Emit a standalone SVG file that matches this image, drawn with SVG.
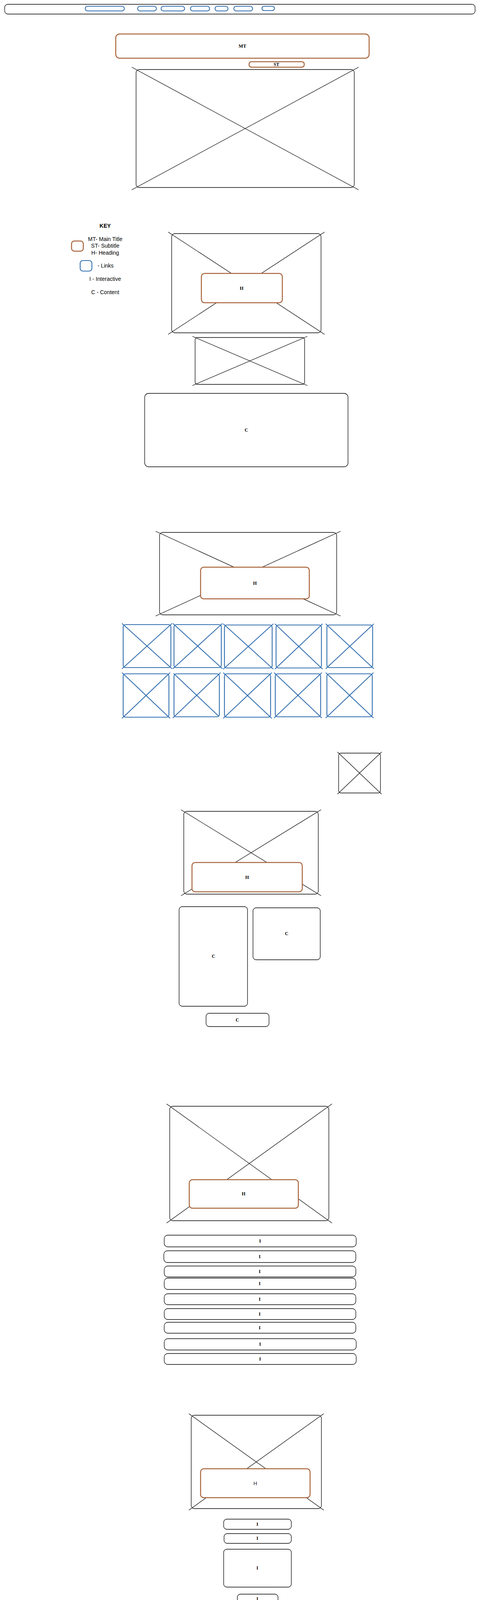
<svg xmlns="http://www.w3.org/2000/svg" width="1225" height="4113" viewBox="0 0 1225 4113">
<style>
.bg{fill:#ffffff}
.frame{fill:#ffffff;stroke:#000000;stroke-width:1.3}
.x{stroke:#000000;stroke-width:1.2;fill:none}
.brown{fill:#ffffff;stroke:#A9643C;stroke-width:2.5}
.blue{fill:#ffffff;stroke:#3470B0;stroke-width:2.2}
.bx{stroke:#3470B0;stroke-width:2.2;fill:none}
.lbl{font-family:"Liberation Serif","Times New Roman",serif;font-weight:bold;font-size:12px;fill:#000000;text-anchor:middle}
.key{font-family:"Liberation Sans",Arial,sans-serif;font-size:14px;fill:#000000;text-anchor:middle}
.hs{font-family:"Liberation Sans",Arial,sans-serif;font-size:13px;fill:#222222;text-anchor:middle}
</style>
<rect class="bg" x="0" y="0" width="1225" height="4113"/>

<g id="nav">
<rect class="frame" x="12" y="11" width="1203" height="25" rx="8"/>
<rect class="blue" x="218" y="16" width="100" height="12" rx="6"/>
<rect class="blue" x="352" y="16" width="48" height="12" rx="6"/>
<rect class="blue" x="412" y="16" width="60" height="12" rx="6"/>
<rect class="blue" x="487" y="16" width="49" height="12" rx="6"/>
<rect class="blue" x="550" y="16" width="33" height="12" rx="6"/>
<rect class="blue" x="598" y="16" width="48" height="12" rx="6"/>
<rect class="blue" x="670" y="16" width="32" height="11" rx="5.5"/>
</g>

<g id="mt"><rect class="brown" x="296" y="87" width="648" height="62" rx="10"/><text class="lbl" x="620" y="122">MT</text></g>
<g id="st"><rect class="brown" x="637" y="158" width="141" height="14" rx="6"/><text class="lbl" x="707" y="169">ST</text></g>

<g id="hero">
<rect class="frame" x="348" y="178" width="558" height="302" rx="8"/>
<line class="x" x1="337" y1="172" x2="917" y2="486"/>
<line class="x" x1="917" y1="172" x2="337" y2="486"/>
</g>

<g id="key">
<text class="key" x="269" y="583" font-weight="bold">KEY</text>
<rect class="brown" x="183" y="617" width="30" height="26" rx="7" stroke-width="3"/>
<text class="key" x="269" y="617">MT- Main Title</text>
<text class="key" x="269" y="634">ST- Subtitle</text>
<text class="key" x="269" y="652">H- Heading</text>
<rect class="blue" x="205" y="667" width="30" height="27" rx="7" stroke-width="3"/>
<text class="key" x="270" y="685">- Links</text>
<text class="key" x="269" y="719">I - Interactive</text>
<text class="key" x="269" y="753">C - Content</text>
</g>

<g id="s2-image">
<rect class="frame" x="439" y="598" width="382" height="254" rx="8"/>
<line class="x" x1="430" y1="594" x2="830" y2="856"/>
<line class="x" x1="830" y1="594" x2="430" y2="856"/>
</g>
<g id="s2-h"><rect class="brown" x="515" y="700" width="207" height="75" rx="8"/><text class="lbl" x="618" y="742">H</text></g>
<g id="s2-small">
<rect class="frame" x="499" y="864" width="280" height="120" rx="6"/>
<line class="x" x1="492" y1="861" x2="786" y2="987"/>
<line class="x" x1="786" y1="861" x2="492" y2="987"/>
</g>
<g id="s2-c"><rect class="frame" x="370" y="1007" width="520" height="188" rx="10"/><text class="lbl" x="630" y="1105">C</text></g>

<g id="s3-image">
<rect class="frame" x="408" y="1363" width="453" height="211" rx="8"/>
<line class="x" x1="398" y1="1360" x2="871" y2="1577"/>
<line class="x" x1="871" y1="1360" x2="398" y2="1577"/>
</g>
<g id="s3-h"><rect class="brown" x="513" y="1452" width="278" height="81" rx="8"/><text class="lbl" x="652" y="1497">H</text></g>

<g id="grid">
<g id="g1"><rect class="blue" x="315" y="1599" width="122" height="110" rx="6"/><line class="bx" x1="312" y1="1596" x2="440" y2="1712"/><line class="bx" x1="440" y1="1596" x2="312" y2="1712"/></g>
<g id="g2"><rect class="blue" x="445" y="1599" width="121" height="110" rx="6"/><line class="bx" x1="442" y1="1596" x2="569" y2="1712"/><line class="bx" x1="569" y1="1596" x2="442" y2="1712"/></g>
<g id="g3"><rect class="blue" x="574" y="1600" width="122" height="110" rx="6"/><line class="bx" x1="571" y1="1597" x2="699" y2="1713"/><line class="bx" x1="699" y1="1597" x2="571" y2="1713"/></g>
<g id="g4"><rect class="blue" x="706" y="1600" width="116" height="110" rx="6"/><line class="bx" x1="703" y1="1597" x2="825" y2="1713"/><line class="bx" x1="825" y1="1597" x2="703" y2="1713"/></g>
<g id="g5"><rect class="blue" x="836" y="1600" width="117" height="109" rx="6"/><line class="bx" x1="833" y1="1597" x2="956" y2="1712"/><line class="bx" x1="956" y1="1597" x2="833" y2="1712"/></g>
<g id="g6"><rect class="blue" x="315" y="1725" width="117" height="111" rx="6"/><line class="bx" x1="312" y1="1722" x2="435" y2="1839"/><line class="bx" x1="435" y1="1722" x2="312" y2="1839"/></g>
<g id="g7"><rect class="blue" x="445" y="1725" width="116" height="110" rx="6"/><line class="bx" x1="444" y1="1724" x2="560" y2="1834" stroke-width="4"/><line class="bx" x1="564" y1="1722" x2="442" y2="1838"/></g>
<g id="g8"><rect class="blue" x="574" y="1725" width="118" height="111" rx="6"/><line class="bx" x1="571" y1="1722" x2="695" y2="1839"/><line class="bx" x1="695" y1="1722" x2="571" y2="1839"/></g>
<g id="g9"><rect class="blue" x="704" y="1725" width="116" height="110" rx="6"/><line class="bx" x1="701" y1="1722" x2="823" y2="1838"/><line class="bx" x1="823" y1="1722" x2="701" y2="1838"/></g>
<g id="g10"><rect class="blue" x="836" y="1725" width="116" height="110" rx="6"/><line class="bx" x1="833" y1="1722" x2="955" y2="1838"/><line class="bx" x1="955" y1="1722" x2="833" y2="1838"/></g>
</g>

<g id="s4-small">
<rect class="frame" x="866" y="1928" width="107" height="102" rx="6"/>
<line class="x" x1="863" y1="1925" x2="976" y2="2033"/>
<line class="x" x1="976" y1="1925" x2="863" y2="2033"/>
</g>
<g id="s4-image">
<rect class="frame" x="470" y="2077" width="344" height="212" rx="8"/>
<line class="x" x1="463" y1="2073" x2="821" y2="2293"/>
<line class="x" x1="821" y1="2073" x2="463" y2="2293"/>
</g>
<g id="s4-h"><rect class="brown" x="491" y="2208" width="282" height="75" rx="8"/><text class="lbl" x="632" y="2250">H</text></g>
<g id="s4-c1"><rect class="frame" x="458" y="2321" width="175" height="255" rx="8"/><text class="lbl" x="546" y="2452">C</text></g>
<g id="s4-c2"><rect class="frame" x="647" y="2324" width="172" height="133" rx="8"/><text class="lbl" x="733" y="2394">C</text></g>
<g id="s4-c3"><rect class="frame" x="527" y="2594" width="161" height="34" rx="8"/><text class="lbl" x="607" y="2615">C</text></g>

<g id="s5-image">
<rect class="frame" x="434" y="2832" width="407" height="293" rx="8"/>
<line class="x" x1="426" y1="2826" x2="849" y2="3131"/>
<line class="x" x1="849" y1="2826" x2="426" y2="3131"/>
</g>
<g id="s5-h"><rect class="brown" x="484" y="3020" width="279" height="73" rx="8"/><text class="lbl" x="623" y="3060">H</text></g>
<g id="s5-i1"><rect class="frame" x="420" y="3162" width="491" height="30" rx="9"/><text class="lbl" x="665" y="3181">I</text></g>
<g id="s5-i2"><rect class="frame" x="419" y="3202" width="491" height="30" rx="9"/><text class="lbl" x="664" y="3221">I</text></g>
<g id="s5-i3"><rect class="frame" x="420" y="3241" width="490" height="28" rx="9"/><text class="lbl" x="664" y="3259">I</text></g>
<g id="s5-i4"><rect class="frame" x="420" y="3272" width="490" height="29" rx="9"/><text class="lbl" x="664" y="3290">I</text></g>
<g id="s5-i5"><rect class="frame" x="420" y="3312" width="490" height="28" rx="9"/><text class="lbl" x="664" y="3330">I</text></g>
<g id="s5-i6"><rect class="frame" x="420" y="3350" width="490" height="28" rx="9"/><text class="lbl" x="664" y="3368">I</text></g>
<g id="s5-i7"><rect class="frame" x="420" y="3385" width="490" height="28" rx="9"/><text class="lbl" x="664" y="3403">I</text></g>
<g id="s5-i8"><rect class="frame" x="420" y="3427" width="491" height="29" rx="9"/><text class="lbl" x="665" y="3445">I</text></g>
<g id="s5-i9"><rect class="frame" x="420" y="3465" width="491" height="28" rx="9"/><text class="lbl" x="665" y="3483">I</text></g>

<g id="s6-image">
<rect class="frame" x="489" y="3623" width="333" height="239" rx="8"/>
<line class="x" x1="483" y1="3619" x2="828" y2="3866"/>
<line class="x" x1="828" y1="3619" x2="483" y2="3866"/>
</g>
<g id="s6-h"><rect class="brown" x="513" y="3760" width="280" height="74" rx="8"/><text class="hs" x="653" y="3802">H</text></g>
<g id="s6-i1"><rect class="frame" x="572" y="3889" width="173" height="26" rx="8"/><text class="lbl" x="658" y="3906">I</text></g>
<g id="s6-i2"><rect class="frame" x="573" y="3926" width="172" height="25" rx="8"/><text class="lbl" x="658" y="3942">I</text></g>
<g id="s6-i3"><rect class="frame" x="572" y="3966" width="173" height="97" rx="8"/><text class="lbl" x="658" y="4018">I</text></g>
<g id="s6-i4"><rect class="frame" x="607" y="4081" width="104" height="25" rx="8"/><text class="lbl" x="658" y="4097">I</text></g>

<g id="connectors"></g>
</svg>
